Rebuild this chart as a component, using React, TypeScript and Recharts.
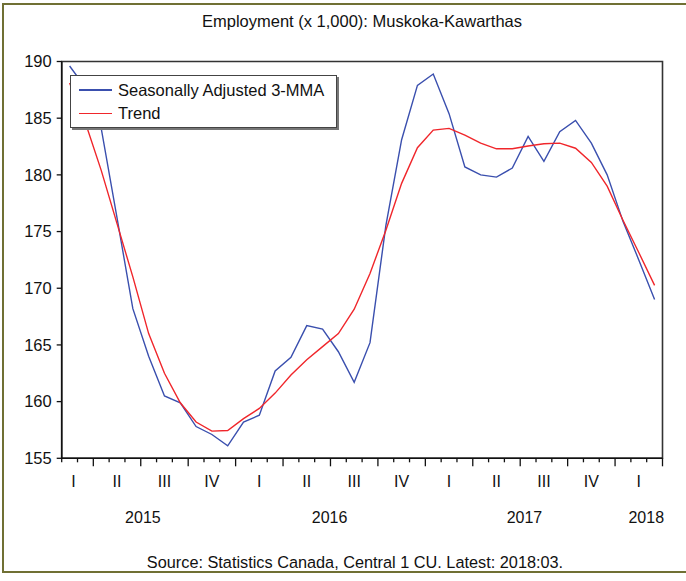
import React from 'react';
import {
    LineChart,
    Line,
    XAxis,
    YAxis,
    Legend,
    ReferenceArea,
} from 'recharts';

// monthly observations, 2015:02 .. 2018:03
const months = [
    '2015:02', '2015:03', '2015:04', '2015:05', '2015:06', '2015:07', '2015:08', '2015:09', '2015:10', '2015:11', '2015:12',
    '2016:01', '2016:02', '2016:03', '2016:04', '2016:05', '2016:06', '2016:07', '2016:08', '2016:09', '2016:10', '2016:11', '2016:12',
    '2017:01', '2017:02', '2017:03', '2017:04', '2017:05', '2017:06', '2017:07', '2017:08', '2017:09', '2017:10', '2017:11', '2017:12',
    '2018:01', '2018:02', '2018:03',
];

const adjusted = [
    189.6, 187.7, 184.1, 176.2, 168.2, 164.0, 160.5, 159.9, 157.8, 157.1, 156.1,
    158.2, 158.8, 162.7, 163.9, 166.7, 166.4, 164.4, 161.7, 165.2, 175.5, 183.1, 187.9,
    188.9, 185.4, 180.7, 180.0, 179.8, 180.6, 183.4, 181.2, 183.8, 184.8, 182.8, 180.0,
    175.9, 172.5, 169.0,
];

const trend = [
    188.1, 184.6, 180.4, 175.7, 171.0, 166.0, 162.5, 159.9, 158.2, 157.4, 157.45,
    158.5, 159.4, 160.75, 162.35, 163.7, 164.85, 166.0, 168.15, 171.3, 175.1, 179.25, 182.4,
    183.95, 184.1, 183.5, 182.8, 182.3, 182.3, 182.55, 182.75, 182.8, 182.35, 181.1, 179.0,
    176.0, 173.15, 170.25,
];

const yTicks = [155, 160, 165, 170, 175, 180, 185, 190];

const quarterTicks = [0.25, 3, 6, 9, 12, 15, 18, 21, 24, 27, 30, 33, 36];
const quarterLabels = ['I', 'II', 'III', 'IV', 'I', 'II', 'III', 'IV', 'I', 'II', 'III', 'IV', 'I'];

const yearTicks = [5, 16.5, 28.5, 36];
const yearLabels = ['2015', '2016', '2017', '2018'];

const data = months.map((m, i) => ({x: i, month: m, adjusted: adjusted[i], trend: trend[i]}));

// tick marks sit between observations; the long ones close a quarter
const boundaries = [-0.5, ...months.map((_, i) => i + 0.5)];
const quarterEnds = months
    .map((m, i) => (['03', '06', '09', '12'].includes(m.slice(5)) ? i + 0.5 : null))
    .filter((v) => v !== null);

const FONT = '"Liberation Sans", Arial, sans-serif';
const BLUE = '#3a4fae';
const RED = '#f0262b';

const MonthTick = (props: any) => {
    const {x, y, payload} = props;
    const v = payload.value;
    if (boundaries.includes(v)) {
        const tall = quarterEnds.includes(v);
        return <line x1={x} x2={x} y1={y} y2={y + (tall ? 8 : 4)} stroke="#111" strokeWidth={1.3}/>;
    }
    const k = quarterTicks.indexOf(v);
    return (
        <text x={x} y={y + 28.5} textAnchor="middle" fontSize={16} fontFamily={FONT} fill="#111">
            {quarterLabels[k]}
        </text>
    );
};

const YearTick = (props: any) => {
    const {x, y, payload} = props;
    return (
        <text x={x} y={y + 24.5} textAnchor="middle" fontSize={16} fontFamily={FONT} fill="#111">
            {yearLabels[yearTicks.indexOf(payload.value)]}
        </text>
    );
};

const LegendBox = () => (
    <div style={{
        width: 265, height: 51, border: '1px solid #444', boxShadow: '2px 2px 0 #777',
        background: '#fff', fontFamily: FONT, fontSize: 16.5, color: '#111', boxSizing: 'content-box',
    }}>
        {[['Seasonally Adjusted 3-MMA', BLUE], ['Trend', RED]].map(([name, color], i) => (
            <div key={name} style={{position: 'absolute', left: 9, top: 5 + i * 23.5, height: 20, display: 'flex', alignItems: 'center'}}>
                <span style={{display: 'inline-block', width: 33, height: 1.5, background: color, marginRight: 6}}/>
                <span>{name}</span>
            </div>
        ))}
    </div>
);

const App = () => {
    return (
        <div style={{position: 'absolute', left: 0, top: 0, width: 686, height: 581, overflow: 'hidden', background: '#fff', fontFamily: FONT}}>
            <div style={{
                position: 'absolute', left: 2, top: 3, width: 720, height: 566,
                border: '2.5px solid #707034',
            }}/>
            <div style={{position: 'absolute', left: 62, width: 600, top: 12, textAlign: 'center', fontSize: 16.5, color: '#111'}}>
                Employment (x 1,000): Muskoka-Kawarthas
            </div>
            <div style={{position: 'absolute', left: 55, width: 600, top: 553, textAlign: 'center', fontSize: 16.3, color: '#111'}}>
                Source: Statistics Canada, Central 1 CU. Latest: 2018:03.
            </div>
            <LineChart
                width={686}
                height={581}
                data={data}
                style={{position: 'absolute', left: 0, top: 0}}
                margin={{top: 61.5, right: 23.5, left: 0, bottom: 42.7}}
            >
                <XAxis
                    xAxisId="m"
                    type="number"
                    dataKey="x"
                    domain={[-0.5, 37.5]}
                    allowDataOverflow
                    ticks={[...boundaries, ...quarterTicks]}
                    interval={0}
                    tick={MonthTick}
                    tickLine={false}
                    tickSize={0}
                    tickMargin={0}
                    axisLine={{stroke: '#111', strokeWidth: 1.5}}
                    height={40}
                />
                <XAxis
                    xAxisId="yr"
                    type="number"
                    domain={[-0.5, 37.5]}
                    allowDataOverflow
                    ticks={yearTicks}
                    interval={0}
                    tick={YearTick}
                    tickLine={false}
                    tickSize={0}
                    tickMargin={0}
                    axisLine={false}
                    height={40}
                />
                <YAxis
                    type="number"
                    domain={[155, 190]}
                    ticks={yTicks}
                    interval={0}
                    width={61.7}
                    tickSize={5}
                    tickMargin={5}
                    tickLine={{stroke: '#111', strokeWidth: 1.3}}
                    axisLine={{stroke: '#111', strokeWidth: 1.5}}
                    tick={{fontSize: 16.5, fontFamily: FONT, fill: '#111'}}
                />
                <ReferenceArea
                    xAxisId="m"
                    x1={-0.5}
                    x2={37.5}
                    y1={155}
                    y2={190}
                    fill="none"
                    stroke="#333"
                    strokeWidth={1.6}
                />
                <Legend
                    layout="vertical"
                    align="center"
                    verticalAlign="middle"
                    content={LegendBox}
                    wrapperStyle={{left: 70, top: 75, width: 267, height: 53}}
                />
                <Line xAxisId="m" type="linear" dataKey="adjusted" name="Seasonally Adjusted 3-MMA" stroke={BLUE}
                      strokeWidth={1.4} dot={false} isAnimationActive={false}/>
                <Line xAxisId="m" type="linear" dataKey="trend" name="Trend" stroke={RED}
                      strokeWidth={1.4} dot={false} isAnimationActive={false}/>
            </LineChart>
        </div>
    );
};

export default App;
